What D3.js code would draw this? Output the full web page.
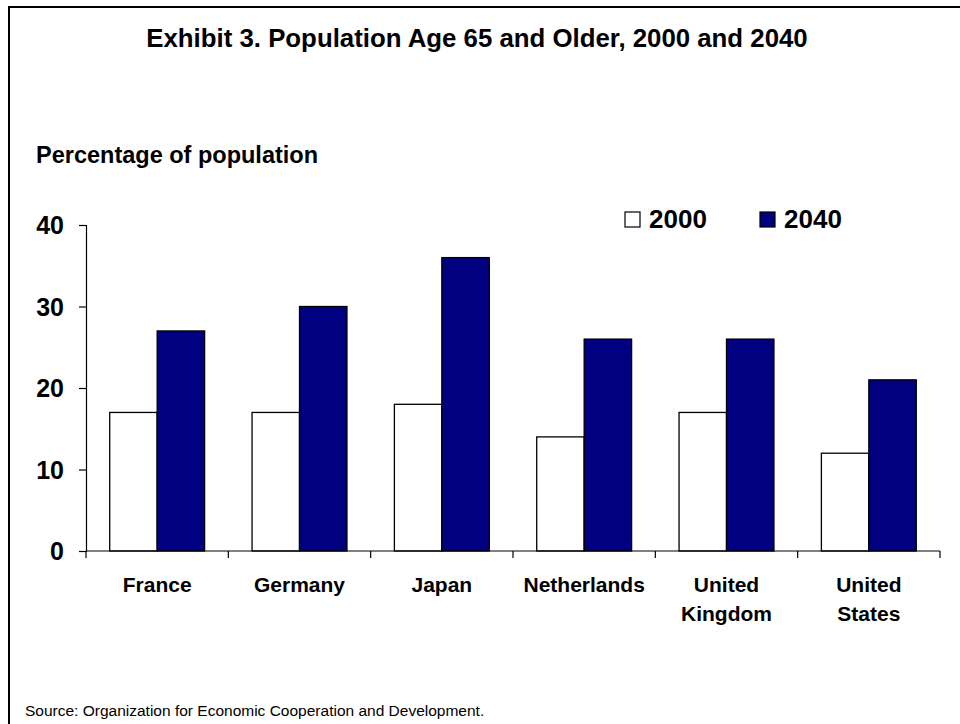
<!DOCTYPE html>
<html>
<head>
<meta charset="utf-8">
<script src="https://cdn.jsdelivr.net/npm/d3@7/dist/d3.min.js"></script>
<style>
  html, body { margin: 0; padding: 0; background: #fff; }
  svg { display: block; }
  text { font-family: "Liberation Sans", Arial, Helvetica, sans-serif; fill: #000; }
</style>
</head>
<body>
<svg id="chart" width="960" height="724"></svg>
<script>
// Share of population aged 65 and older, by country
const countries = ["France", "Germany", "Japan", "Netherlands", "United Kingdom", "United States"];
const categoryLines = [["France"], ["Germany"], ["Japan"], ["Netherlands"], ["United", "Kingdom"], ["United", "States"]];
const years = ["2000", "2040"];
const values2000 = [17, 17, 18, 14, 17, 12];
const values2040 = [27, 30, 36, 26, 26, 21];
const yTicks = [0, 10, 20, 30, 40];
const seriesColors = ["#ffffff", "#000080"];

const svg = d3.select("#chart");

// outer frame (right and bottom edges run past the canvas)
svg.append("rect")
  .attr("x", 9).attr("y", 7)
  .attr("width", 980).attr("height", 760)
  .attr("fill", "none").attr("stroke", "#000").attr("stroke-width", 2);

svg.append("text")
  .attr("x", 477).attr("y", 47)
  .attr("text-anchor", "middle")
  .style("font-size", "25.8px").style("font-weight", "bold")
  .text("Exhibit 3. Population Age 65 and Older, 2000 and 2040");

svg.append("text")
  .attr("x", 36).attr("y", 163)
  .style("font-size", "23.5px").style("font-weight", "bold")
  .text("Percentage of population");

const x0 = d3.scaleBand().domain(countries).range([86, 940]).padding(0);
const x1 = d3.scaleBand().domain(years).range([0, x0.bandwidth()]).paddingInner(0).paddingOuter(0.5);
const y = d3.scaleLinear().domain([0, 40]).range([551, 225]);

const rows = countries.map((c, i) => ({ country: c, vals: [values2000[i], values2040[i]] }));

const groups = svg.append("g").selectAll("g")
  .data(rows).join("g")
  .attr("transform", d => `translate(${x0(d.country)},0)`);

groups.selectAll("rect")
  .data(d => d.vals.map((v, k) => ({ year: years[k], value: v, k })))
  .join("rect")
  .attr("x", d => x1(d.year))
  .attr("y", d => y(d.value))
  .attr("width", x1.bandwidth())
  .attr("height", d => y(0) - y(d.value))
  .attr("fill", d => seriesColors[d.k])
  .attr("stroke", "#000").attr("stroke-width", 1.3);

// value axis
const yAxis = svg.append("g")
  .attr("transform", "translate(86,0)")
  .call(d3.axisLeft(y).tickValues(yTicks).tickSize(7).tickPadding(15).tickFormat(d3.format("d")));
yAxis.select(".domain").attr("stroke", "#000").attr("stroke-width", 1.2);
yAxis.selectAll(".tick line").attr("stroke", "#000").attr("stroke-width", 1.2);
yAxis.selectAll(".tick text")
  .attr("dy", "0.34em")
  .style("font-size", "25px").style("font-weight", "bold")
  .style("font-family", "'Liberation Sans', Arial, sans-serif");

// category axis with ticks between categories
const xAxisG = svg.append("g").attr("transform", "translate(0,551)");
xAxisG.append("line")
  .attr("x1", 86).attr("x2", 940).attr("y1", 0).attr("y2", 0)
  .attr("stroke", "#000").attr("stroke-width", 1.2);
const boundaries = countries.map(c => x0(c)).concat([x0.range()[1]]);
xAxisG.selectAll("line.tick")
  .data(boundaries).join("line")
  .attr("class", "tick")
  .attr("x1", d => d).attr("x2", d => d)
  .attr("y1", 0).attr("y2", 7)
  .attr("stroke", "#000").attr("stroke-width", 1.2);

const labels = svg.append("g").selectAll("text")
  .data(countries).join("text")
  .attr("x", d => x0(d) + x0.bandwidth() / 2)
  .attr("y", 592)
  .attr("text-anchor", "middle")
  .style("font-size", "21px").style("font-weight", "bold");
labels.each(function (d, i) {
  const t = d3.select(this);
  categoryLines[i].forEach((line, j) => {
    t.append("tspan")
      .attr("x", x0(d) + x0.bandwidth() / 2)
      .attr("dy", j === 0 ? 0 : 29)
      .text(line);
  });
});

// legend
const legendX = [625, 760];
const legend = svg.append("g").selectAll("g")
  .data(years).join("g")
  .attr("transform", (d, i) => `translate(${legendX[i]},212)`);
legend.append("rect")
  .attr("width", 15).attr("height", 15)
  .attr("fill", (d, i) => seriesColors[i])
  .attr("stroke", "#000").attr("stroke-width", 1.2);
legend.append("text")
  .attr("x", 24).attr("y", 16)
  .style("font-size", "26px").style("font-weight", "bold")
  .text(d => d);

svg.append("text")
  .attr("x", 25).attr("y", 716)
  .style("font-size", "15.5px")
  .text("Source: Organization for Economic Cooperation and Development.");
</script>
</body>
</html>
